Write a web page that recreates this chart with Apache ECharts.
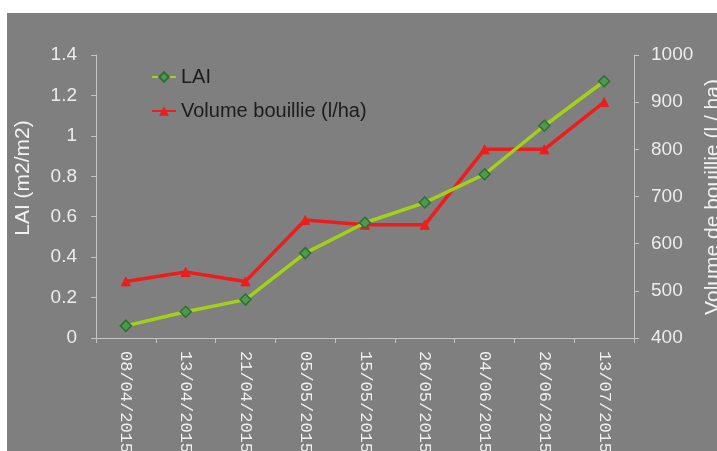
<!DOCTYPE html>
<html>
<head>
<meta charset="utf-8">
<script src="https://cdn.jsdelivr.net/npm/echarts@6/dist/echarts.min.js"></script>
<style>
html,body{margin:0;padding:0;background:#fff;}
#chart{width:717px;height:451px;}
</style>
</head>
<body>
<div id="chart"></div>
<script>
var categories = ['08/04/2015','13/04/2015','21/04/2015','05/05/2015','15/05/2015','26/05/2015','04/06/2015','26/06/2015','13/07/2015'];
var laiValues = [0.06, 0.13, 0.19, 0.42, 0.57, 0.67, 0.81, 1.05, 1.27];
var volumeValues = [520, 540, 520, 650, 640, 640, 800, 800, 900];
var leftTicks = [0, 0.2, 0.4, 0.6, 0.8, 1, 1.2, 1.4];
var rightTicks = [400, 500, 600, 700, 800, 900, 1000];

var chart = echarts.init(document.getElementById('chart'), null, {renderer:'canvas'});
var axisCol = '#c4c4c4';
var labCol = '#ececec';
chart.setOption({
  backgroundColor: '#ffffff',
  animation: false,
  graphic: [
    {type:'rect', z:-100, silent:true, shape:{x:7,y:13,width:710,height:438}, style:{fill:'#7f7f7f'}},
    {type:'text', z:10, x:23, y:178, rotation:Math.PI/2, style:{text:'LAI (m2/m2)', fill:'#f2f2f2', font:'21px "Liberation Sans", Arial, sans-serif', align:'center', verticalAlign:'middle'}},
    {type:'text', z:10, x:713, y:197, rotation:Math.PI/2, style:{text:'Volume de bouillie (l / ha)', fill:'#f2f2f2', font:'21px "Liberation Sans", Arial, sans-serif', align:'center', verticalAlign:'middle'}}
  ],
  legend: {
    orient:'vertical', left:146, top:62, itemWidth:24, itemHeight:12, itemGap:14,
    textStyle:{color:'#1c1c1c', fontSize:20, fontFamily:'"Liberation Sans", Arial, sans-serif'},
    data:['LAI','Volume bouillie (l/ha)']
  },
  grid: {left:96, right:83, top:55, bottom:113, containLabel:false, outerBoundsMode:'none'},
  xAxis: {
    type:'category', data:categories, boundaryGap:true,
    axisLine:{lineStyle:{color:axisCol, width:1}},
    axisTick:{show:true, length:5, lineStyle:{color:axisCol}},
    axisLabel:{rotate:-90, margin:13, color:'#f0f0f0', fontSize:17, fontFamily:'"Liberation Mono", "DejaVu Sans Mono", monospace', interval:0}
  },
  yAxis: [
    {type:'value', min:leftTicks[0], max:leftTicks[leftTicks.length-1], interval:0.2, position:'left',
     axisLine:{show:true, lineStyle:{color:axisCol}}, axisTick:{show:true, length:5, lineStyle:{color:axisCol}},
     splitLine:{show:false},
     axisLabel:{margin:19, color:labCol, fontSize:19, fontFamily:'"Liberation Sans", Arial, sans-serif'}},
    {type:'value', min:rightTicks[0], max:rightTicks[rightTicks.length-1], interval:100, position:'right',
     axisLine:{show:true, lineStyle:{color:axisCol}}, axisTick:{show:true, length:5, lineStyle:{color:axisCol}},
     splitLine:{show:false},
     axisLabel:{margin:17, color:labCol, fontSize:19, fontFamily:'"Liberation Sans", Arial, sans-serif', formatter:function(v){return String(v);}}}
  ],
  series: [
    {name:'Volume bouillie (l/ha)', type:'line', yAxisIndex:1, data:volumeValues,
     symbol:'triangle', symbolSize:9, lineStyle:{color:'#ee1d1d', width:3.5},
     itemStyle:{color:'#ee1d1d', borderColor:'#ee1d1d'}, z:2},
    {name:'LAI', type:'line', yAxisIndex:0, data:laiValues,
     symbol:'diamond', symbolSize:11, lineStyle:{color:'#a2d117', width:3.5},
     itemStyle:{color:'#4f9a4a', borderColor:'#2f6e34', borderWidth:1.5}, z:3}
  ]
});
</script>
</body>
</html>
